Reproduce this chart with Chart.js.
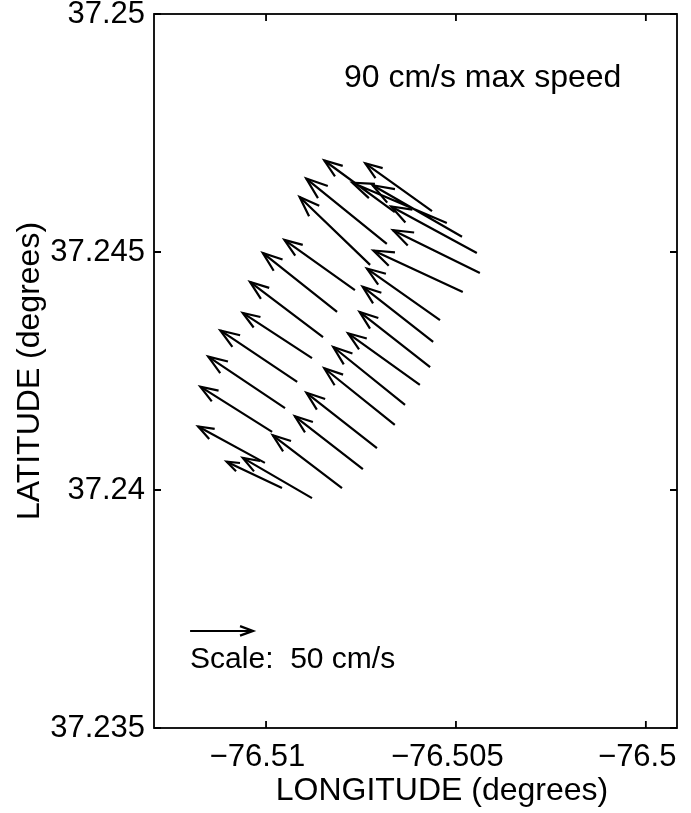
<!DOCTYPE html>
<html>
<head>
<meta charset="utf-8">
<script src="https://cdn.jsdelivr.net/npm/chart.js@4.4.1/dist/chart.umd.min.js"></script>
<style>
  html, body { margin: 0; padding: 0; background: #fff; }
  canvas { display: block; }
</style>
</head>
<body>
<canvas id="myChart" width="691" height="813"></canvas>
<script>
// arrow tails (station positions) and current components, cm/s
const lon = [-76.51003, -76.50958, -76.50879, -76.50984, -76.5095, -76.50918, -76.50879, -76.5085, -76.50813,
  -76.50766, -76.50726, -76.50682, -76.50661,
  -76.508, -76.50745, -76.50708, -76.50661, -76.50634, -76.50595, -76.50568, -76.5056, -76.50542,
  -76.50482, -76.50437, -76.50445, -76.50484, -76.50524, -76.50563];
const lat = [37.24057, 37.24004, 37.23983, 37.24122, 37.24172, 37.24227, 37.24277, 37.24321, 37.24374,
  37.2442, 37.24473, 37.24517, 37.24584,
  37.24004, 37.24044, 37.24088, 37.24137, 37.24179, 37.24221, 37.24258, 37.24311, 37.24357,
  37.24416, 37.24456, 37.24498, 37.24532, 37.24561, 37.24586];
const u = [-53, -44, -55, -57, -61, -61, -55, -58, -59, -56, -56, -64, -56,
  -55, -54, -56, -56, -57, -57, -56, -56, -58, -71, -69, -68, -71, -75, -53];
const v = [29, 21, 32, 36, 41, 41, 36, 44, 47, 40, 54, 52, 41,
  42, 42, 44, 45, 46, 41, 44, 44, 41, 33, 34, 37, 41, 32, 38];

const xTicks = [-76.51, -76.505, -76.5];
const yTicks = [37.235, 37.24, 37.245, 37.25];
const scaleSpeed = 50; // cm/s, reference arrow
const scalePos = [-76.512, 37.23704];

// degrees per cm/s of arrow (equal distance aspect)
const kLon = 3.316e-5;
const kLat = kLon * Math.cos(37.2425 * Math.PI / 180);

const shafts = [];
const heads = [];
for (let i = 0; i < lon.length; i++) {
  const hx = lon[i] + u[i] * kLon;
  const hy = lat[i] + v[i] * kLat;
  shafts.push({ x: lon[i], y: lat[i] }, { x: hx, y: hy }, { x: NaN, y: NaN });
  heads.push([lon[i], lat[i], hx, hy]);
}
const scaleShaft = [
  { x: scalePos[0], y: scalePos[1] },
  { x: scalePos[0] + scaleSpeed * kLon, y: scalePos[1] },
];
heads.push([scalePos[0], scalePos[1], scalePos[0] + scaleSpeed * kLon, scalePos[1]]);

const FONT = "'Liberation Sans', Arial, Helvetica, sans-serif";

const drawHead = (ctx, x0, y0, x1, y1) => {
  const dx = x1 - x0, dy = y1 - y0;
  const len = Math.sqrt(dx * dx + dy * dy);
  const h = len * 0.22;
  const ang = Math.atan2(dy, dx);
  const a = 20 * Math.PI / 180;
  ctx.beginPath();
  ctx.moveTo(x1 - h * Math.cos(ang - a), y1 - h * Math.sin(ang - a));
  ctx.lineTo(x1, y1);
  ctx.lineTo(x1 - h * Math.cos(ang + a), y1 - h * Math.sin(ang + a));
  ctx.stroke();
};

const quiverExtras = {
  id: "quiverExtras",
  afterDatasetsDraw(chart) {
    const { ctx, chartArea: a, scales: { x, y } } = chart;
    ctx.save();
    ctx.strokeStyle = "#000";
    ctx.lineWidth = 2.2;
    ctx.lineJoin = "miter";
    heads.forEach((hd) => {
      drawHead(ctx, x.getPixelForValue(hd[0]), y.getPixelForValue(hd[1]),
        x.getPixelForValue(hd[2]), y.getPixelForValue(hd[3]));
    });

    // box and inward ticks
    ctx.lineWidth = 1.8;
    ctx.strokeRect(a.left, a.top, a.right - a.left, a.bottom - a.top);
    const tl = 7;
    ctx.beginPath();
    xTicks.forEach((t) => {
      const px = x.getPixelForValue(t);
      ctx.moveTo(px, a.bottom); ctx.lineTo(px, a.bottom - tl);
      ctx.moveTo(px, a.top); ctx.lineTo(px, a.top + tl);
    });
    yTicks.forEach((t) => {
      const py = y.getPixelForValue(t);
      ctx.moveTo(a.left, py); ctx.lineTo(a.left + tl, py);
      ctx.moveTo(a.right, py); ctx.lineTo(a.right - tl, py);
    });
    ctx.stroke();

    // annotations
    ctx.fillStyle = "#000";
    ctx.font = "32px " + FONT;
    ctx.textAlign = "left";
    ctx.textBaseline = "middle";
    ctx.fillText("90 cm/s max speed", x.getPixelForValue(-76.50795), y.getPixelForValue(37.24866));
    ctx.font = "30px " + FONT;
    ctx.fillText("Scale:  50 cm/s", x.getPixelForValue(-76.512), y.getPixelForValue(37.23643));

    // axis titles
    ctx.font = "32px " + FONT;
    ctx.textAlign = "center";
    ctx.fillText("LONGITUDE (degrees)", 442, 791);
    ctx.translate(30, (a.top + a.bottom) / 2);
    ctx.rotate(-Math.PI / 2);
    ctx.fillText("LATITUDE (degrees)", 0, 0);
    ctx.restore();
  },
};

const fmt = (val) => String(+val.toFixed(4)).replace("-", "\u2212");

const chart = new Chart("myChart", {
  type: "scatter",
  data: {
    datasets: [
      { data: shafts, showLine: true, spanGaps: false, borderColor: "#000", borderWidth: 2.2, pointRadius: 0 },
      { data: scaleShaft, showLine: true, borderColor: "#000", borderWidth: 2, pointRadius: 0, clip: false },
    ],
  },
  options: {
    responsive: false,
    animation: false,
    devicePixelRatio: 1,
    layout: { padding: { top: 14, right: 14, left: 0, bottom: 0 } },
    plugins: { legend: { display: false }, tooltip: { enabled: false } },
    scales: {
      x: {
        type: "linear",
        min: -76.51295,
        max: -76.49918,
        grid: { display: false, drawTicks: false },
        border: { display: false },
        afterBuildTicks: (s) => { s.ticks = xTicks.map((t) => ({ value: t })); },
        afterFit: (s) => { s.height = 85; s.paddingLeft = 0; s.paddingRight = 0; },
        // trailing spaces nudge the labels left as in the original plot
        ticks: { color: "#000", font: { family: FONT, size: 31 }, padding: 11, maxRotation: 0, autoSkip: false,
          callback: (val) => fmt(val) + "  " },
      },
      y: {
        type: "linear",
        min: 37.235,
        max: 37.25,
        grid: { display: false, drawTicks: false },
        border: { display: false },
        afterBuildTicks: (s) => { s.ticks = yTicks.map((t) => ({ value: t })); },
        afterFit: (s) => { s.width = 154; s.paddingTop = 0; s.paddingBottom = 0; },
        ticks: { color: "#000", font: { family: FONT, size: 31 }, padding: 9, autoSkip: false, callback: fmt },
      },
    },
  },
  plugins: [quiverExtras],
});
</script>
</body>
</html>
